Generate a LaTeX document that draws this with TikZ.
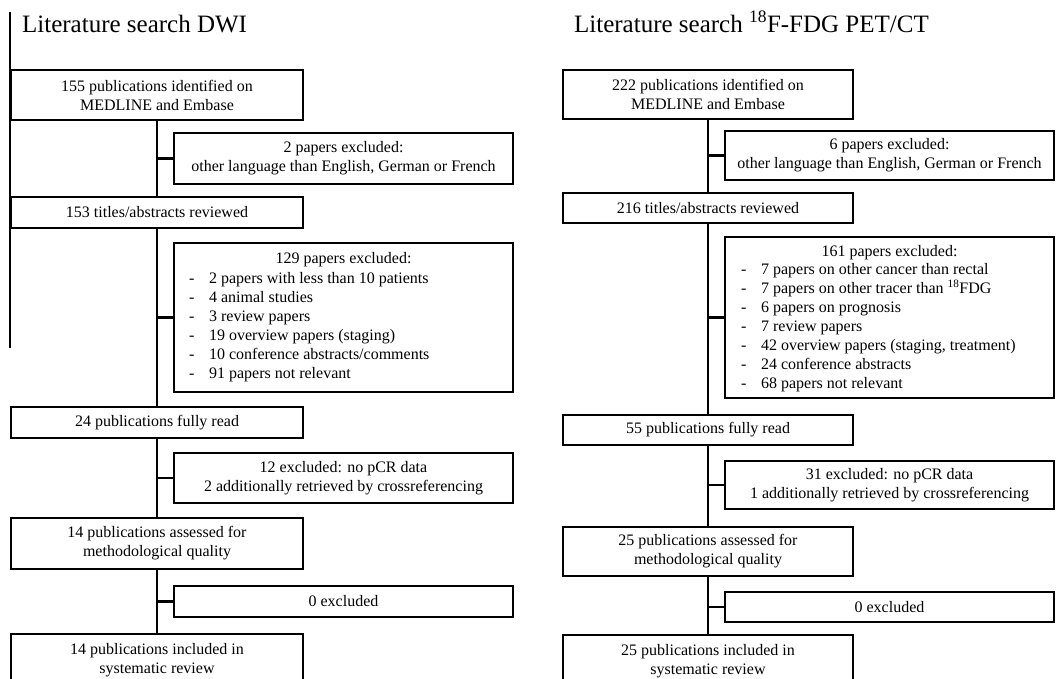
\documentclass[tikz,border=0pt]{standalone}
\usepackage{fontspec}
\setmainfont{Liberation Serif}
\usepackage{tikz}
\usetikzlibrary{calc}
\tikzstyle{every node}=[font=\fontsize{16}{19}\selectfont]
\tikzset{boite/.style={draw, line width=2.2pt, inner sep=0pt, align=center},
	liste/.style={inner sep=0pt, align=left, anchor=west},
	titre/.style={inner sep=0pt, anchor=base west, font=\fontsize{25}{30}\selectfont}}
\newcommand{\tiret}{\makebox[20pt][l]{-}}

\begin{document}
\begin{tikzpicture}[x=1pt, y=-1pt, line width=2.2pt]
	\useasboundingbox (0,0) rectangle (1056,678);
	\clip (0,0) rectangle (1056,678);
	
%%%%     DWI     %%%%
	
	\begin{scope}[etape/.style={boite, minimum width=292, minimum height=#1},
		exclu/.style={boite, minimum width=339, minimum height=#1}]
	\node[titre] (tdwi) at (21,32) {Literature search DWI};
	\draw[line width=1.4pt] (10,12) -- (10,348);
	
	% etapes
	\node[etape=50] (d1) at (157,95) {155 publications identified on\\MEDLINE and Embase};
	\node[etape=31] (d2) at (157,212.5) {153 titles/abstracts reviewed};
	\node[etape=31] (d3) at (157,422.5) {24 publications fully read};
	\node[etape=51] (d4) at (157,543.5) {14 publications assessed for\\methodological quality};
	\node[etape=52] (d5) at (157,660) {14 publications included in\\systematic review};
	
	% exclusions
	\node[exclu=51] (de1) at (343.5,158.5) {2 papers excluded:\\other language than English, German or French};
	\node[exclu=149] (de2) at (343.5,317.5) {};
	\node (dh2) at (343.5,260) {129 papers excluded:};
	\node[liste] (dl2) at (188,327) {\tiret 2 papers with less than 10 patients\\
		\tiret 4 animal studies\\
		\tiret 3 review papers\\
		\tiret 19 overview papers (staging)\\
		\tiret 10 conference abstracts/comments\\
		\tiret 91 papers not relevant};
	\node[exclu=50] (de3) at (343.5,478) {12 excluded: no pCR data\\2 additionally retrieved by crossreferencing};
	\node[exclu=31] (de4) at (343.5,601.5) {0 excluded};
	
	% liens
	\draw (d1.south) -- (d2.north);
	\draw (d2.south) -- (d3.north);
	\draw (d3.south) -- (d4.north);
	\draw (d4.south) -- (d5.north);
	\foreach \e in {de1, de2, de3, de4}
		\draw (\e.west) -- (\e.west -| d1.south);
	\end{scope}
	
%%%%     PET/CT     %%%%
	
	\begin{scope}[etape/.style={boite, minimum width=290, minimum height=#1},
		exclu/.style={boite, minimum width=329, minimum height=#1}]
	\node[titre] (tpet) at (573,32) {Literature search \textsuperscript{18}F-FDG PET/CT};
	
	% etapes
	\node[etape=49] (p1) at (708,94.5) {222 publications identified on\\MEDLINE and Embase};
	\node[etape=30] (p2) at (708,208) {216 titles/abstracts reviewed};
	\node[etape=30] (p3) at (708,430) {55 publications fully read};
	\node[etape=49] (p4) at (708,551.5) {25 publications assessed for\\methodological quality};
	\node[etape=52] (p5) at (708,661) {25 publications included in\\systematic review};
	
	% exclusions
	\node[exclu=49] (pe1) at (889.5,155.5) {6 papers excluded:\\other language than English, German or French};
	\node[exclu=161] (pe2) at (889.5,317.5) {};
	\node (ph2) at (889.5,253) {161 papers excluded:};
	\node[liste] (pl2) at (740,328) {\tiret 7 papers on other cancer than rectal\\
		\tiret 7 papers on other tracer than \textsuperscript{18}FDG\\
		\tiret 6 papers on prognosis\\
		\tiret 7 review papers\\
		\tiret 42 overview papers (staging, treatment)\\
		\tiret 24 conference abstracts\\
		\tiret 68 papers not relevant};
	\node[exclu=48] (pe3) at (889.5,485) {31 excluded: no pCR data\\1 additionally retrieved by crossreferencing};
	\node[exclu=30] (pe4) at (889.5,607) {0 excluded};
	
	% liens
	\draw (p1.south) -- (p2.north);
	\draw (p2.south) -- (p3.north);
	\draw (p3.south) -- (p4.north);
	\draw (p4.south) -- (p5.north);
	\foreach \e in {pe1, pe2, pe3, pe4}
		\draw (\e.west) -- (\e.west -| p1.south);
	\end{scope}
	
\end{tikzpicture}
\end{document}
